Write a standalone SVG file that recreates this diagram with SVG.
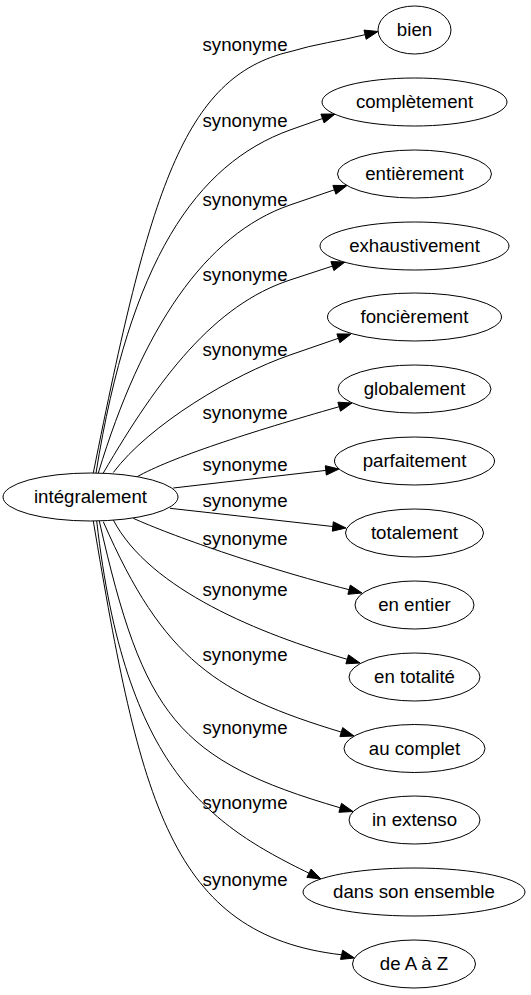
<svg xmlns="http://www.w3.org/2000/svg" width="531" height="995" viewBox="0 0 531 995">
<style>
.n ellipse{fill:#fff;stroke:#000;stroke-width:1}
.n text{font-family:"Liberation Sans",Arial,sans-serif;font-size:18.67px;text-anchor:middle;fill:#000}
.e path{fill:none;stroke:#000;stroke-width:1}
.e polygon{fill:#000;stroke:#000;stroke-width:1}
.e text{font-family:"Liberation Sans",Arial,sans-serif;font-size:18.67px;text-anchor:middle;fill:#000}
</style>
<rect width="531" height="995" fill="#fff"/>
<g id="edges" class="e">
<path d="M93.3,473 C149.3,193 182.9,76.5 290,51.7 C313.8,44.2 340.8,40.8 365.1,34.7"/>
<polygon points="378,31.5 366.2,39.3 364,30.1"/>
<text x="245" y="51">synonyme</text>
<path d="M96,473 C130,260.8 196,164 290,130 L322.5,118.5"/>
<polygon points="335,114 324.1,122.9 320.9,114.1"/>
<text x="245" y="127">synonyme</text>
<path d="M98.3,473 C141.8,329.4 204.9,234.2 290,205 L334.4,189.8"/>
<polygon points="347,185.5 335.9,194.2 332.9,185.4"/>
<text x="245" y="206">synonyme</text>
<path d="M103.3,473 C158.7,378 214,304.9 290,280 L332.4,266.1"/>
<polygon points="345,262 333.9,270.6 330.9,261.6"/>
<text x="245" y="281">synonyme</text>
<path d="M113.3,472.5 C149.3,424.5 233.2,374.6 290,355 L338.4,338.3"/>
<polygon points="351,334 339.9,342.7 336.9,333.9"/>
<text x="245" y="356">synonyme</text>
<path d="M136.7,477 C170,458 250,432 339.2,406.7"/>
<polygon points="352,403 340.5,411.2 337.9,402.2"/>
<text x="245" y="419">synonyme</text>
<path d="M173.3,488 L325.8,470.4"/>
<polygon points="339,469 326.3,475.1 325.3,465.7"/>
<text x="245" y="471">synonyme</text>
<path d="M170,508.3 L332.8,526.5"/>
<polygon points="346,528 332.3,531.2 333.3,521.8"/>
<text x="245" y="507">synonyme</text>
<path d="M133.3,518.3 C170,535 260,567 349.1,589.7"/>
<polygon points="362,593 347.9,594.3 350.3,585.1"/>
<text x="245" y="545">synonyme</text>
<path d="M113.3,520 C150,590 260.8,634.1 347.2,659.3"/>
<polygon points="360,663 345.9,663.8 348.5,654.8"/>
<text x="245" y="596">synonyme</text>
<path d="M103.3,521.7 C163.3,659.7 217,694.4 341.3,732.1"/>
<polygon points="354,736 339.9,736.6 342.7,727.6"/>
<text x="245" y="661">synonyme</text>
<path d="M99.3,521 C143.3,716 177,760.2 340.2,807.8"/>
<polygon points="353,811.5 338.9,812.3 341.5,803.3"/>
<text x="245" y="734">synonyme</text>
<path d="M96.7,521 C125,770 210,824.8 309,873.2"/>
<polygon points="321,879 306.9,877.4 311.1,869"/>
<text x="245" y="809">synonyme</text>
<path d="M93.3,521 C140,800 170,935 341.6,954.8"/>
<polygon points="354.5,958 340.5,959.4 342.7,950.2"/>
<text x="245" y="886">synonyme</text>
</g>
<g id="integralement" class="n"><ellipse cx="90.5" cy="497" rx="87.5" ry="24"/><text x="90.5" y="503">intégralement</text></g>
<g id="bien" class="n"><ellipse cx="414.5" cy="30" rx="36.5" ry="24"/><text x="414.5" y="36">bien</text></g>
<g id="completement" class="n"><ellipse cx="414.5" cy="102" rx="92.5" ry="24"/><text x="414.5" y="108">complètement</text></g>
<g id="entierement" class="n"><ellipse cx="414.5" cy="174" rx="77" ry="24"/><text x="414.5" y="180">entièrement</text></g>
<g id="exhaustivement" class="n"><ellipse cx="414.5" cy="246" rx="94.5" ry="24"/><text x="414.5" y="252">exhaustivement</text></g>
<g id="foncierement" class="n"><ellipse cx="414.5" cy="317" rx="87" ry="24"/><text x="414.5" y="323">foncièrement</text></g>
<g id="globalement" class="n"><ellipse cx="414.5" cy="389" rx="76.5" ry="24"/><text x="414.5" y="395">globalement</text></g>
<g id="parfaitement" class="n"><ellipse cx="414.5" cy="461" rx="80" ry="24"/><text x="414.5" y="467">parfaitement</text></g>
<g id="totalement" class="n"><ellipse cx="414.5" cy="533" rx="69" ry="24"/><text x="414.5" y="539">totalement</text></g>
<g id="en_entier" class="n"><ellipse cx="414.5" cy="605" rx="59.5" ry="24"/><text x="414.5" y="611">en entier</text></g>
<g id="en_totalite" class="n"><ellipse cx="414.5" cy="677" rx="65.5" ry="24"/><text x="414.5" y="683">en totalité</text></g>
<g id="au_complet" class="n"><ellipse cx="414.5" cy="748.5" rx="70.5" ry="24"/><text x="414.5" y="754.5">au complet</text></g>
<g id="in_extenso" class="n"><ellipse cx="414.5" cy="820" rx="65.5" ry="24"/><text x="414.5" y="826">in extenso</text></g>
<g id="dans_son_ensemble" class="n"><ellipse cx="414" cy="892" rx="111" ry="24"/><text x="414" y="898">dans son ensemble</text></g>
<g id="de_A_a_Z" class="n"><ellipse cx="414" cy="964" rx="61.5" ry="24"/><text x="414" y="970">de A à Z</text></g>
</svg>
